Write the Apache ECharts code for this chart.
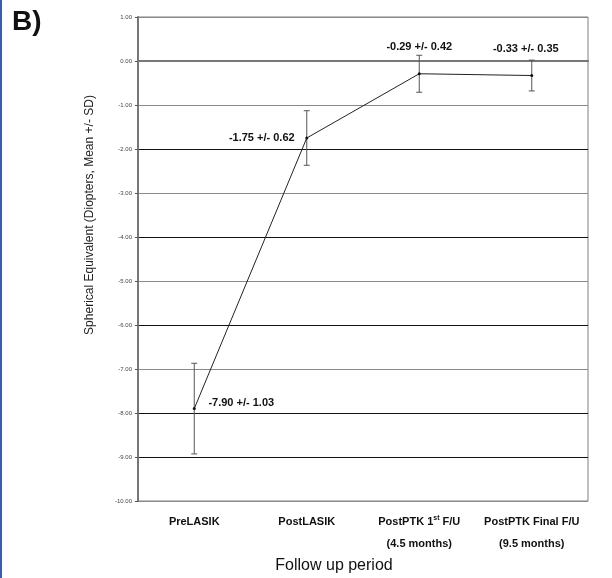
<!DOCTYPE html>
<html>
<head>
<meta charset="utf-8">
<script src="https://cdn.jsdelivr.net/npm/echarts@6/dist/echarts.min.js"></script>
<style>
    html, body {margin: 0; padding: 0; background: #fff;}
    #chart {width: 612px; height: 578px;}
</style>
</head>
<body>
<div id="chart"></div>
<script>
    "use strict";

    var categories = ['PreLASIK', 'PostLASIK', 'PostPTK 1st F/U', 'PostPTK Final F/U'];
    var subLabels = ['', '', '(4.5 months)', '(9.5 months)'];
    var means = [-7.90, -1.75, -0.29, -0.33];
    var sds = [1.03, 0.62, 0.42, 0.35];
    var yTicks = {min: -10, max: 1, interval: 1};

    // grid lines alternate like in the scanned figure
    var gridColors = ['#8a8a8a', '#111', '#111', '#8a8a8a', '#111', '#8a8a8a',
        '#111', '#8a8a8a', '#111', '#8a8a8a', '#111', '#8a8a8a'];

    var chart = echarts.init(document.getElementById('chart'), null, {renderer: 'canvas'});

    var errData = means.map(function (m, i) {
        return [i, m - sds[i], m + sds[i]];
    });

    var option = {
        animation: false,
        grid: {left: 138, right: 24, top: 17, bottom: 77, show: true, borderColor: '#808080', borderWidth: 1},
        xAxis: {
            type: 'category',
            data: categories,
            boundaryGap: true,
            axisLine: {lineStyle: {color: '#777', width: 2}},
            axisTick: {show: false},
            axisLabel: {
                margin: 14,
                interval: 0,
                formatter: function (val, idx) {
                    var first;
                    if (val.indexOf('1st') >= 0) {
                        first = '{b|PostPTK 1}{sup|st}{b| F/U}';
                    } else {
                        first = '{b|' + val + '}';
                    }
                    if (subLabels[idx]) {
                        return first + '\n{b2|' + subLabels[idx] + '}';
                    }
                    return first;
                },
                rich: {
                    b: {fontFamily: 'Liberation Sans, Arial', fontWeight: 'bold', fontSize: 11, color: '#111', lineHeight: 14},
                    sup: {fontFamily: 'Liberation Sans, Arial', fontWeight: 'bold', fontSize: 7, color: '#111', verticalAlign: 'top', lineHeight: 14, padding: [0, 0, 5, 0]},
                    b2: {fontFamily: 'Liberation Sans, Arial', fontWeight: 'bold', fontSize: 11, color: '#111', lineHeight: 14, padding: [16, 0, 0, 0]}
                }
            },
            splitLine: {show: false}
        },
        yAxis: {
            type: 'value',
            min: yTicks.min,
            max: yTicks.max,
            interval: yTicks.interval,
            axisLine: {show: true, lineStyle: {color: '#777', width: 2}},
            axisTick: {show: true, length: 3, lineStyle: {color: '#555'}},
            axisLabel: {
                fontFamily: 'Liberation Sans, Arial',
                fontSize: 6,
                color: '#444',
                margin: 6,
                formatter: function (v) { return v.toFixed(2); }
            },
            splitLine: {show: true, lineStyle: {color: gridColors, width: 1}}
        },
        graphic: [
            {type: 'rect', left: 0, top: 0, shape: {width: 2, height: 578}, style: {fill: '#3a5bb0'}},
            {type: 'text', left: 12, top: 8, style: {text: 'B)', font: 'bold 28px "Liberation Sans", Arial', fill: '#111'}},
            {
                type: 'text', x: 90, y: 215, rotation: Math.PI / 2,
                style: {
                    text: 'Spherical Equivalent (Diopters, Mean +/- SD)',
                    font: '12px "Liberation Sans", Arial', fill: '#222',
                    align: 'center', verticalAlign: 'middle'
                }
            },
            {
                type: 'text', x: 334, y: 566,
                style: {
                    text: 'Follow up period', font: '16px "Liberation Sans", Arial', fill: '#111',
                    align: 'center', verticalAlign: 'middle'
                }
            }
        ],
        series: [
            {
                type: 'custom',
                z: 2,
                renderItem: function (params, api) {
                    var x = api.coord([api.value(0), api.value(1)])[0];
                    var lo = api.coord([api.value(0), api.value(1)])[1];
                    var hi = api.coord([api.value(0), api.value(2)])[1];
                    var w = 3;
                    var st = {stroke: '#555', lineWidth: 1};
                    return {
                        type: 'group',
                        children: [
                            {type: 'line', shape: {x1: x, y1: hi, x2: x, y2: lo}, style: st},
                            {type: 'line', shape: {x1: x - w, y1: hi, x2: x + w, y2: hi}, style: st},
                            {type: 'line', shape: {x1: x - w, y1: lo, x2: x + w, y2: lo}, style: st}
                        ]
                    };
                },
                data: errData
            },
            {
                type: 'line',
                z: 3,
                data: means,
                symbol: 'circle',
                symbolSize: 3,
                itemStyle: {color: '#111'},
                lineStyle: {color: '#222', width: 1},
                label: {
                    show: true,
                    fontFamily: 'Liberation Sans, Arial',
                    fontWeight: 'bold',
                    fontSize: 11,
                    color: '#111',
                    formatter: function (p) {
                        return p.value.toFixed(2) + ' +/- ' + sds[p.dataIndex].toFixed(2);
                    }
                },
                labelLayout: function (params) {
                    var i = params.dataIndex;
                    var r = params.rect;
                    var cx = r.x + r.width / 2;
                    var cy = r.y + r.height / 2;
                    if (i === 0) {
                        return {x: cx + 47, y: cy - 6, align: 'center', verticalAlign: 'middle'};
                    }
                    if (i === 1) {
                        return {x: cx - 45, y: cy, align: 'center', verticalAlign: 'middle'};
                    }
                    if (i === 2) {
                        return {x: cx, y: cy - 27, align: 'center', verticalAlign: 'middle'};
                    }
                    return {x: cx - 6, y: cy - 27, align: 'center', verticalAlign: 'middle'};
                }
            }
        ]
    };

    chart.setOption(option);
</script>
</body>
</html>
